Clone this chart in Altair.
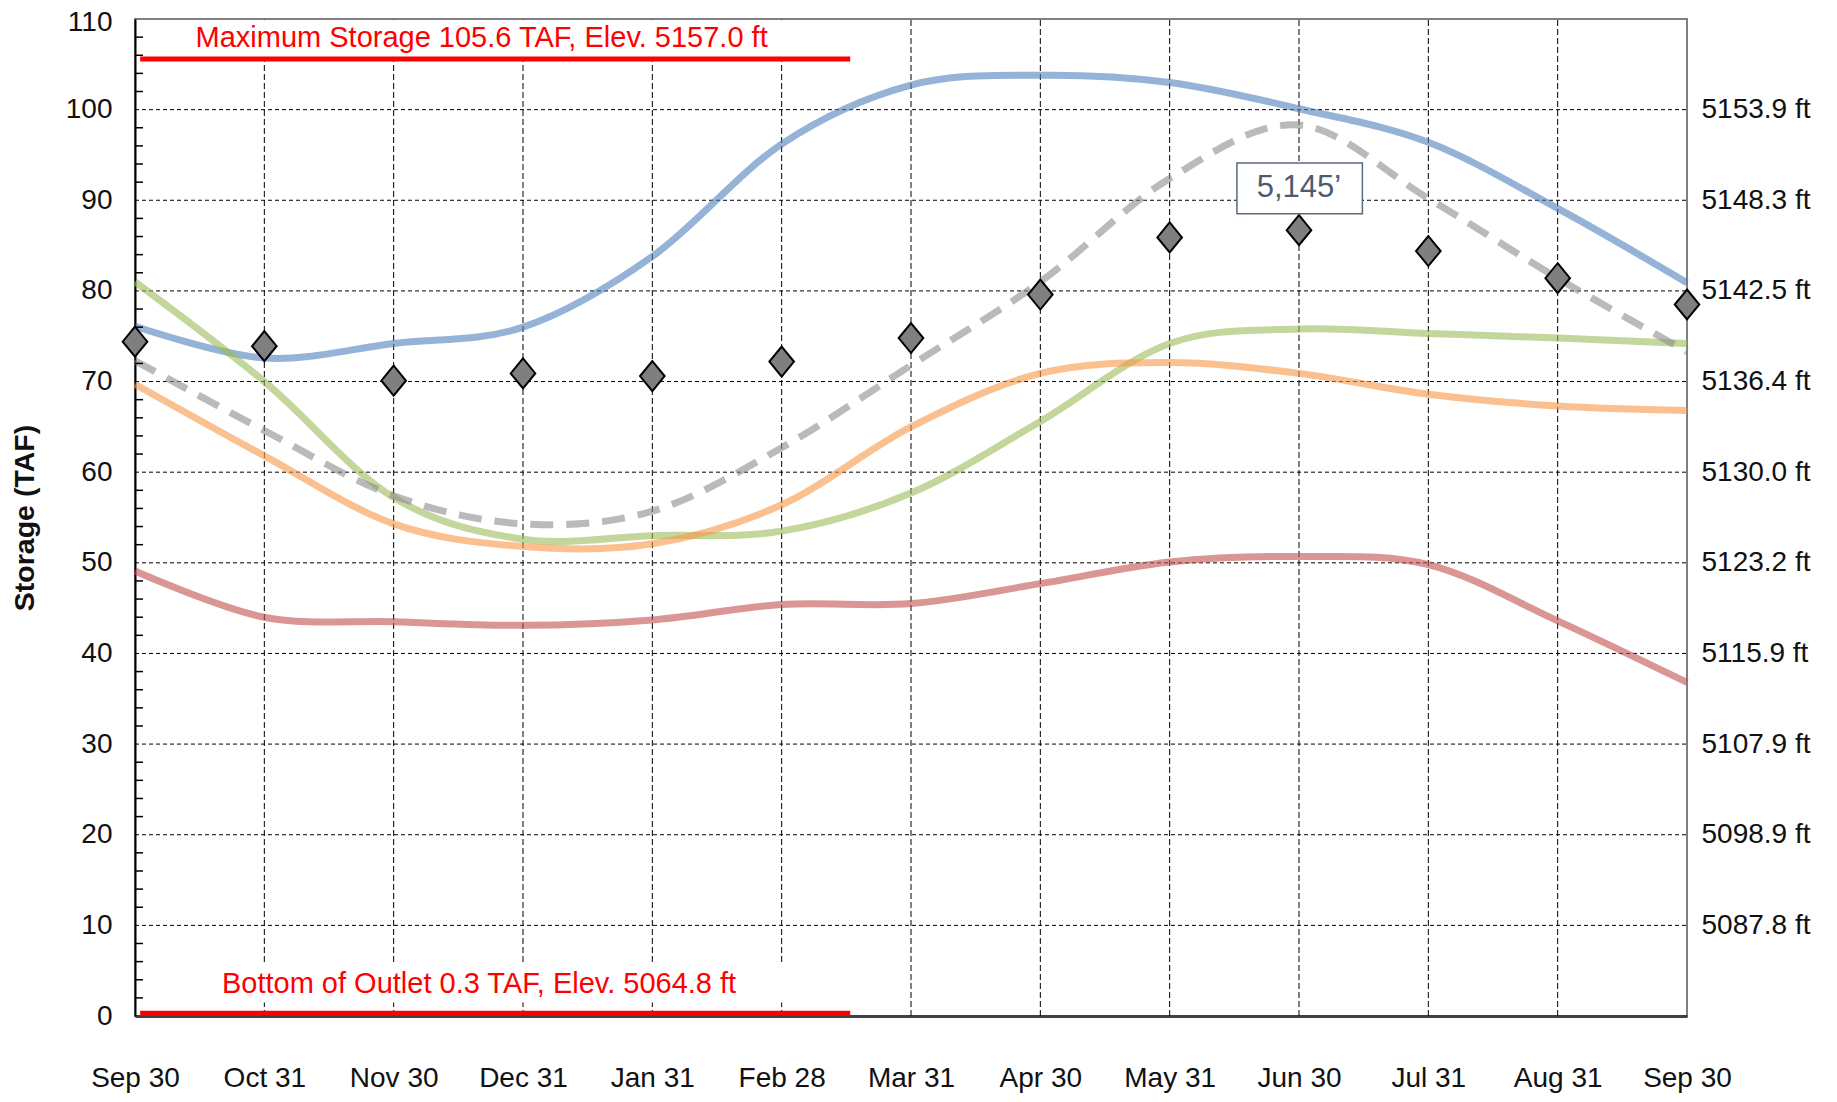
import json
import pandas as pd
import altair as alt

# ---------------- data ----------------
months = ["Sep 30", "Oct 31", "Nov 30", "Dec 31", "Jan 31", "Feb 28", "Mar 31",
          "Apr 30", "May 31", "Jun 30", "Jul 31", "Aug 31", "Sep 30"]
idx = list(range(len(months)))

blue = [76.1, 72.6, 74.2, 76.0, 83.8, 96.2, 102.7, 103.8, 103.0, 100.1, 96.4, 89.1, 80.9]
green = [81.0, 70.0, 57.2, 52.6, 53.0, 53.5, 57.7, 65.6, 74.2, 75.8, 75.3, 74.8, 74.2]
orange = [69.7, 61.8, 54.3, 51.8, 52.1, 56.4, 65.0, 70.9, 72.1, 70.9, 68.6, 67.3, 66.8]
red = [49.1, 44.0, 43.5, 43.1, 43.7, 45.4, 45.5, 47.7, 50.1, 50.7, 49.8, 43.6, 36.8]
gray_dashed = [72.3, 64.6, 57.4, 54.3, 55.7, 62.7, 71.8, 81.0, 92.4, 98.3, 90.2, 81.4, 73.3]
diamonds = [74.4, 73.9, 70.1, 70.9, 70.6, 72.2, 74.8, 79.6, 85.9, 86.7, 84.4, 81.4, 78.5]

y_ticks = [0, 10, 20, 30, 40, 50, 60, 70, 80, 90, 100, 110]
elev_values = [10, 20, 30, 40, 50, 60, 70, 80, 90, 100]
elev_labels = ["5087.8 ft", "5098.9 ft", "5107.9 ft", "5115.9 ft", "5123.2 ft",
               "5130.0 ft", "5136.4 ft", "5142.5 ft", "5148.3 ft", "5153.9 ft"]
minor_ticks = [v for v in range(2, 110, 2) if v % 10 != 0]

max_storage = 105.6
bottom_outlet = 0.3
ref_x_start, ref_x_end = 0.04, 5.53
ref_texts = ["Maximum Storage 105.6 TAF, Elev. 5157.0 ft",
             "Bottom of Outlet 0.3 TAF, Elev. 5064.8 ft"]
ref_text_x = [2.68, 2.66]
ref_text_y = [107.9, 3.5]
# white backgrounds behind the reference-line labels
bg_x1 = [0.02, 0.02]
bg_x2 = [5.6, 5.5]
bg_y1 = [105.7, 1.5]
bg_y2 = [109.85, 5.8]

callout_text = "5,145\u2019"
callout_x, callout_y = 9.0, 91.3
callout_box = {"x1": 8.52, "x2": 9.49, "y1": 88.5, "y2": 94.1}

# ---------------- scales / axes ----------------
FONT = "Liberation Sans, Arial, sans-serif"
W, H = 1552, 997
xscale = alt.Scale(domain=[0, 12], nice=False, zero=False)
yscale = alt.Scale(domain=[0, 110], nice=False, zero=False)

xaxis = alt.Axis(values=idx, labelExpr=f"{json.dumps(months)}[datum.value]",
                 title=None, grid=False, ticks=False, tickSize=0,
                 labelFontSize=28, labelColor="#111111", labelPadding=62,
                 labelBaseline="middle", labelFlush=False, labelOverlap=False,
                 domainColor="#404040", domainWidth=3)

def X(field="x"):
    return alt.X(f"{field}:Q", scale=xscale, axis=xaxis)

def Ynone(field):
    return alt.Y(f"{field}:Q", scale=yscale, axis=None)

# ---------------- layers ----------------
hgrid_df = pd.DataFrame({"v": [v for v in y_ticks if 0 < v < 110]})
hgrid = alt.Chart(hgrid_df).mark_rule(color="#000000", strokeWidth=1, strokeDash=[4, 3]).encode(
    x=alt.value(0), x2=alt.value(W),
    y=alt.Y("v:Q", scale=yscale,
            axis=alt.Axis(values=y_ticks, title="Storage (TAF)", grid=False, ticks=False,
                          tickSize=0, labelFontSize=28, labelColor="#111111", labelPadding=23,
                          labelOffset={"condition": {"test": "datum.value >= 110", "value": 3},
                                       "value": 0},
                          labelOverlap=False, domainColor="#000000", domainWidth=2,
                          titleFontSize=28.5, titleFontWeight="bold", titleColor="#111111",
                          titleAngle=270, titleX=-111, titleY=H / 2, titleAlign="center",
                          titleBaseline="middle")),
)

vgrid_df = pd.DataFrame({"x": idx[1:-1], "y0": 0, "y1": 110})
vgrid = alt.Chart(vgrid_df).mark_rule(color="#000000", strokeWidth=1, strokeDash=[6, 3]).encode(
    x=X("x"), y=Ynone("y0"), y2="y1")

line_specs = [
    ("blue", blue, "#4F81BD"),
    ("red", red, "#C0504D"),
    ("green", green, "#9BBB59"),
    ("orange", orange, "#F79646"),
]
line_layers = []
for name, vals, col in line_specs:
    d = pd.DataFrame({"x": idx, "v": vals})
    line_layers.append(
        alt.Chart(d).mark_line(color=col, strokeWidth=7, opacity=0.6,
                               interpolate="cardinal", strokeCap="butt").encode(
            x=X("x"), y=Ynone("v"))
    )

dashed_df = pd.DataFrame({"x": idx, "v": gray_dashed})
dashed = alt.Chart(dashed_df).mark_line(color="#8C8C8C", strokeWidth=7, opacity=0.6,
                                        strokeDash=[23, 13], interpolate="cardinal",
                                        strokeCap="butt").encode(x=X("x"), y=Ynone("v"))

bg_df = pd.DataFrame({"x1": bg_x1, "x2": bg_x2, "y1": bg_y1, "y2": bg_y2})
bg = alt.Chart(bg_df).mark_rect(fill="white").encode(
    x=X("x1"), x2="x2", y=Ynone("y1"), y2="y2")

ref_df = pd.DataFrame({"x1": [ref_x_start, ref_x_start], "x2": [ref_x_end, ref_x_end],
                       "v": [max_storage, bottom_outlet]})
ref_lines = alt.Chart(ref_df).mark_rule(color="#FF0000", strokeWidth=5).encode(
    x=X("x1"), x2="x2", y=Ynone("v"))

reft_df = pd.DataFrame({"x": ref_text_x, "v": ref_text_y, "t": ref_texts})
ref_text = alt.Chart(reft_df).mark_text(color="#FF0000", fontSize=29, font=FONT,
                                        align="center", baseline="middle").encode(
    x=X("x"), y=Ynone("v"), text="t:N")

minor_df = pd.DataFrame({"v": minor_ticks})
minor = alt.Chart(minor_df).mark_rule(color="#000000", strokeWidth=1.5).encode(
    x=alt.value(0), x2=alt.value(8), y=Ynone("v"))

dia_df = pd.DataFrame({"x": idx, "v": diamonds})
dia = alt.Chart(dia_df).mark_point(shape="M0,-1L0.82,0L0,1L-0.82,0Z", size=900, filled=True,
                                   fill="#7F7F7F", stroke="#000000", strokeWidth=2,
                                   opacity=1).encode(
    x=X("x"),
    y=alt.Y("v:Q", scale=yscale,
            axis=alt.Axis(orient="right", values=elev_values,
                          labelExpr=f"{json.dumps(elev_labels)}[round(datum.value/10)-1]",
                          title=None, grid=False, ticks=False, tickSize=0, domain=False,
                          labelFontSize=28, labelColor="#111111", labelPadding=14,
                          labelOverlap=False)),
)

cb_df = pd.DataFrame([callout_box])
cbox = alt.Chart(cb_df).mark_rect(fill="white", stroke="#5A6A7C", strokeWidth=1.5).encode(
    x=X("x1"), x2="x2", y=Ynone("y1"), y2="y2")

ct_df = pd.DataFrame({"x": [callout_x], "v": [callout_y], "t": [callout_text]})
ctext = alt.Chart(ct_df).mark_text(color="#4D5B6C", fontSize=31, font=FONT,
                                   align="center", baseline="middle").encode(
    x=X("x"), y=Ynone("v"), text="t:N")

chart = alt.layer(
    hgrid, vgrid, *line_layers, dashed, bg, ref_lines, ref_text, minor, dia, cbox, ctext
).resolve_axis(y="independent").properties(
    width=W, height=H,
    autosize=alt.AutoSizeParams(type="none"),
    padding={"left": 127, "top": 11, "right": 140, "bottom": 77},
).configure(font=FONT).configure_view(stroke="#808080", strokeWidth=2)

chart.save("out.html", embed_options={"renderer": "svg", "actions": False})
